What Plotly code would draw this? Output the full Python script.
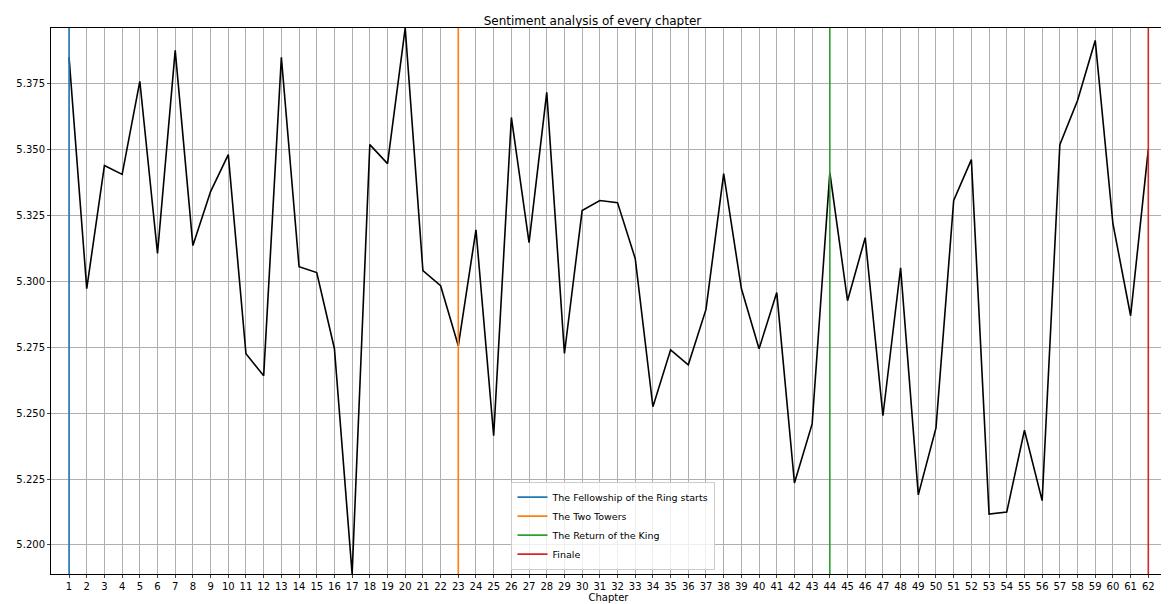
import plotly.graph_objects as go

chapters = list(range(1, 63))
sentiment = [5.3849, 5.2972, 5.3439, 5.3405, 5.3758, 5.3105, 5.3875, 5.3135, 5.334, 5.348,
             5.2725, 5.2642, 5.3849, 5.3055, 5.3033, 5.2744, 5.189, 5.3518, 5.3446, 5.396,
             5.304, 5.2983, 5.2755, 5.3195, 5.2414, 5.3621, 5.3146, 5.3716, 5.2726, 5.3268,
             5.3306, 5.3298, 5.3086, 5.2524, 5.274, 5.2683, 5.2893, 5.3408, 5.2972, 5.2744,
             5.2957, 5.2235, 5.2459, 5.3412, 5.2926, 5.3165, 5.249, 5.3051, 5.219, 5.2444,
             5.3306, 5.3461, 5.2117, 5.2125, 5.2435, 5.2168, 5.3518, 5.3685, 5.3913, 5.3218,
             5.2869, 5.35]
book_starts = [1, 23, 44, 62]
book_names = ["The Fellowship of the Ring starts", "The Two Towers", "The Return of the King", "Finale"]
book_colors = ["#1f77b4", "#ff7f0e", "#2ca02c", "#d62728"]

ylo, yhi = 5.189, 5.396

fig = go.Figure()
fig.add_trace(go.Scatter(x=chapters, y=sentiment, mode="lines",
                         line=dict(color="black", width=1.6), showlegend=False))
for ch, name, col in zip(book_starts, book_names, book_colors):
    fig.add_trace(go.Scatter(x=[ch, ch], y=[ylo, yhi], mode="lines", name=name,
                             line=dict(color=col, width=1.6)))

fig.update_layout(
    width=1169, height=604, paper_bgcolor="white", plot_bgcolor="white",
    margin=dict(l=43, r=11, t=20, b=38),
    font=dict(family="DejaVu Sans", size=10, color="black"),
    title=dict(text="Sentiment analysis of every chapter", x=0.5, y=0.985,
               xanchor="center", yanchor="top", font=dict(size=12)),
    legend=dict(x=0.413, y=0.008, xanchor="left", yanchor="bottom",
                bgcolor="rgba(255,255,255,0.8)", bordercolor="#ccc", borderwidth=1,
                font=dict(size=9.5), tracegroupgap=0),
    xaxis=dict(title=dict(text="Chapter", standoff=2, font=dict(size=10)), range=[-0.02, 63],
               tickmode="array", automargin=False,
               tickvals=chapters, showgrid=True, gridcolor="#b0b0b0", gridwidth=0.8,
               showline=True, mirror=True, linecolor="black", ticks="outside",
               ticklen=3, zeroline=False),
    yaxis=dict(range=[ylo, yhi], tickvals=[5.2, 5.225, 5.25, 5.275, 5.3, 5.325, 5.35, 5.375],
               tickformat=".3f", automargin=False, showgrid=True, gridcolor="#b0b0b0", gridwidth=0.8,
               showline=True, mirror=True, linecolor="black", ticks="outside",
               ticklen=3, zeroline=False),
)
fig.write_html("out.html")
